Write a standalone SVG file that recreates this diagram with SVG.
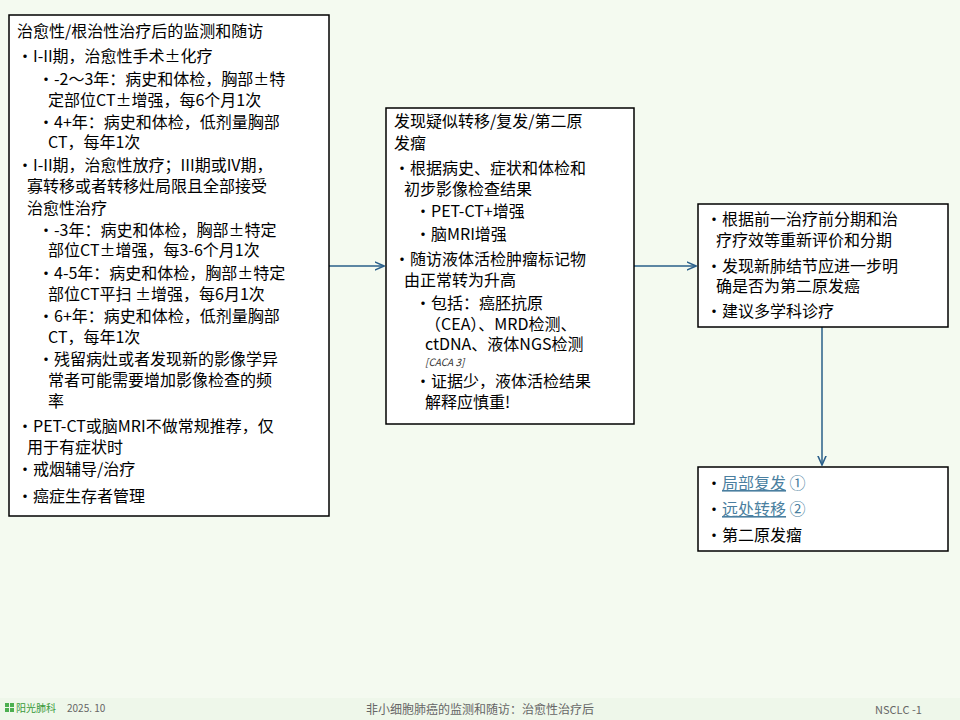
<svg xmlns="http://www.w3.org/2000/svg" width="960" height="720" viewBox="0 0 960 720">
<defs>
<style>
text{font-family:"Noto Sans CJK SC","Noto Sans",sans-serif;font-size:16px;fill:#000}
.box{fill:#fff;stroke:#000;stroke-width:1.5}
.con{stroke:#2a5f8a;stroke-width:1.5;fill:none}
.lk{fill:#4a7fa0;text-decoration:underline}
.ft{font-size:11px;fill:#666}
</style>
<marker id="ah" viewBox="0 0 10 10" refX="9" refY="5" markerWidth="7" markerHeight="7" orient="auto"><path d="M0,1 L9,5 L0,9" fill="none" stroke="#2a5f8a" stroke-width="1.5"/></marker>
</defs>
<rect width="960" height="720" fill="#f4faf0"/>
<rect y="698" width="960" height="22" fill="#eef7ea"/>
<g id="connectors">
<path class="con" d="M329,266 H384" marker-end="url(#ah)"/>
<path class="con" d="M634,266 H696" marker-end="url(#ah)"/>
<path class="con" d="M822,327 V465" marker-end="url(#ah)"/>
</g>
<g id="node-left">
<rect class="box" x="9" y="15" width="320" height="501"/>
<text x="17" y="37">治愈性/根治性治疗后的监测和随访</text>
<text x="17" y="62">•I-II期，治愈性手术±化疗</text>
<text x="38" y="85">•-2～3年：病史和体检，胸部±特</text>
<text x="48" y="106">定部位CT±增强，每6个月1次</text>
<text x="38" y="128">•4+年：病史和体检，低剂量胸部</text>
<text x="48" y="148">CT，每年1次</text>
<text x="17" y="171">•I-II期，治愈性放疗；III期或IV期，</text>
<text x="27" y="192">寡转移或者转移灶局限且全部接受</text>
<text x="27" y="214">治愈性治疗</text>
<text x="38" y="236">•-3年：病史和体检，胸部±特定</text>
<text x="48" y="256">部位CT±增强，每3-6个月1次</text>
<text x="38" y="279">•4-5年：病史和体检，胸部±特定</text>
<text x="48" y="300">部位CT平扫 ±增强，每6月1次</text>
<text x="38" y="322">•6+年：病史和体检，低剂量胸部</text>
<text x="48" y="343">CT，每年1次</text>
<text x="38" y="365">•残留病灶或者发现新的影像学异</text>
<text x="48" y="386">常者可能需要增加影像检查的频</text>
<text x="48" y="407">率</text>
<text x="17" y="432">•PET-CT或脑MRI不做常规推荐，仅</text>
<text x="27" y="453">用于有症状时</text>
<text x="17" y="475">•戒烟辅导/治疗</text>
<text x="17" y="502">•癌症生存者管理</text>
</g>
<g id="node-middle">
<rect class="box" x="386" y="108" width="248" height="316"/>
<text x="394" y="127">发现疑似转移/复发/第二原</text>
<text x="394" y="149">发瘤</text>
<text x="394" y="174">•根据病史、症状和体检和</text>
<text x="404" y="195">初步影像检查结果</text>
<text x="415" y="217">•PET-CT+增强</text>
<text x="415" y="240">•脑MRI增强</text>
<text x="394" y="265">•随访液体活检肿瘤标记物</text>
<text x="404" y="286">由正常转为升高</text>
<text x="415" y="309">•包括：癌胚抗原</text>
<text x="425" y="330">（CEA）、MRD检测、</text>
<text x="425" y="350">ctDNA、液体NGS检测</text>
<text x="425" y="366" style="font-size:10px;font-style:italic;fill:#333">[CACA 3]</text>
<text x="415" y="387">•证据少，液体活检结果</text>
<text x="425" y="408">解释应慎重!</text>
</g>
<g id="node-right1">
<rect class="box" x="698" y="204" width="250" height="123"/>
<text x="706" y="225">•根据前一治疗前分期和治</text>
<text x="716" y="246">疗疗效等重新评价和分期</text>
<text x="706" y="272">•发现新肺结节应进一步明</text>
<text x="716" y="292">确是否为第二原发癌</text>
<text x="706" y="317">•建议多学科诊疗</text>
</g>
<g id="node-right2">
<rect class="box" x="698" y="467" width="250" height="84"/>
<text x="706" y="489">•<tspan class="lk">局部复发</tspan><tspan fill="#4a7fa0"> ①</tspan></text>
<text x="706" y="515">•<tspan class="lk">远处转移</tspan><tspan fill="#4a7fa0"> ②</tspan></text>
<text x="706" y="541">•第二原发瘤</text>
</g>
<g id="footer">
<rect x="5" y="703" width="4" height="4" fill="#4caf50"/><rect x="10" y="703" width="4" height="4" fill="#4caf50"/>
<rect x="5" y="708" width="4" height="4" fill="#4caf50"/><rect x="10" y="708" width="4" height="4" fill="#4caf50"/>
<text x="16" y="712" style="font-size:10px;fill:#3a9a3a">阳光肺科</text>
<text x="67" y="712" class="ft" style="font-size:10px">2025. 10</text>
<text x="480" y="714" class="ft" text-anchor="middle" style="font-size:12px">非小细胞肺癌的监测和随访：治愈性治疗后</text>
<text x="875" y="714" class="ft">NSCLC -1</text>
</g>
</svg>
